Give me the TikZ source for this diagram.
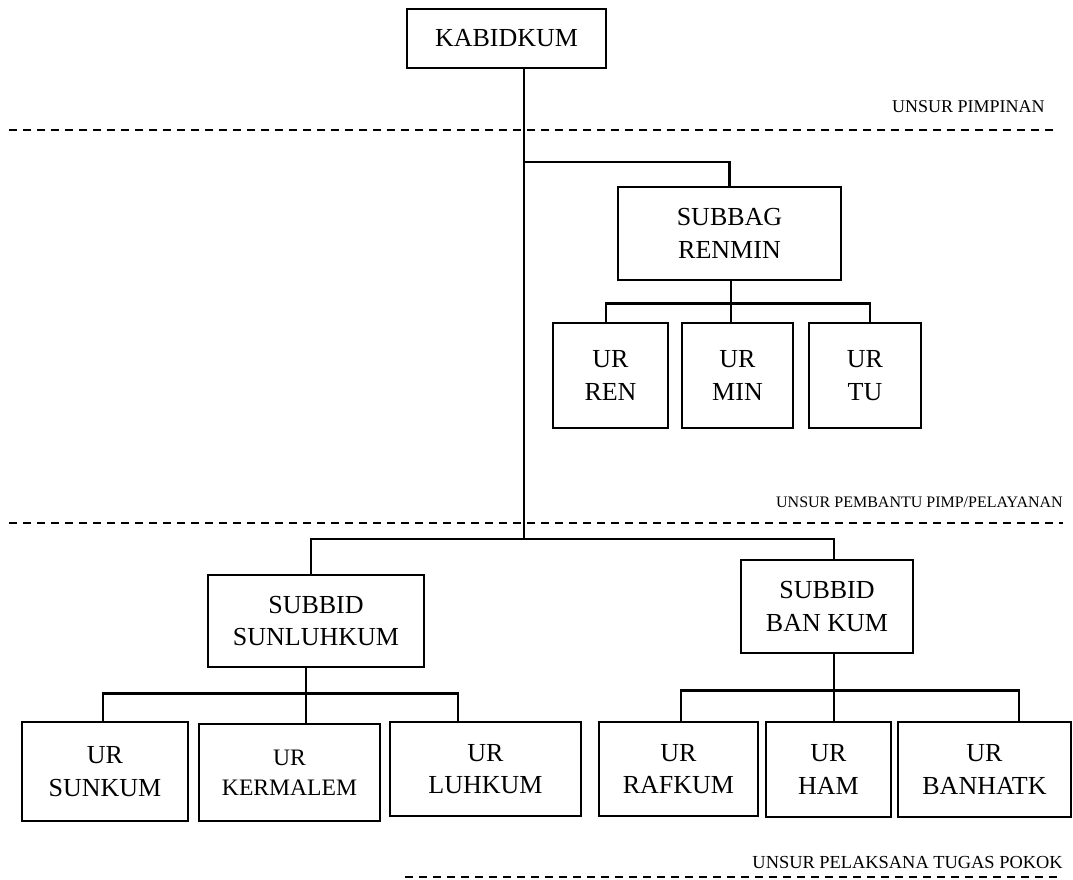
\documentclass[tikz,border=0pt]{standalone}
\usepackage{fontspec}
\setmainfont{Liberation Serif}
\usetikzlibrary{calc}
\begin{document}
\begin{tikzpicture}[x=0.75pt,y=-0.75pt,
  box/.style={draw, line width=2.2pt, inner sep=0pt, align=center, font=\fontsize{19.5}{24.5}\selectfont},
  conn/.style={line width=2pt},
  sep/.style={line width=1.6pt, dash pattern=on 6pt off 4.5pt},
  lbl/.style={inner sep=0pt, anchor=east}]
\useasboundingbox (0,0) rectangle (1073,879);

% boxes
\node[box, minimum width=149.25pt, minimum height=44.25pt] (kab) at (506.5,38.5) {KABIDKUM};
\node[box, minimum width=167.25pt, minimum height=69.75pt] (subbag) at (729.5,233.5) {SUBBAG\\RENMIN};
\node[box, minimum width=86.25pt, minimum height=78.75pt] (ren) at (610.5,375.5) {UR\\REN};
\node[box, minimum width=83.25pt, minimum height=78.75pt] (min) at (737.5,375.5) {UR\\MIN};
\node[box, minimum width=84pt, minimum height=78.75pt] (tu) at (865,375.5) {UR\\TU};
\node[box, minimum width=162pt, minimum height=69pt] (sunluh) at (316,621) {SUBBID\\SUNLUHKUM};
\node[box, minimum width=129pt, minimum height=69.75pt] (bankum) at (827,606.5) {SUBBID\\BAN KUM};
\node[box, minimum width=124.5pt, minimum height=74.25pt] (sunkum) at (105,771.5) {UR\\SUNKUM};
\node[box, minimum width=135.75pt, minimum height=72.75pt, font=\fontsize{17.7}{22.5}\selectfont] (kerm) at (289.5,772.5) {UR\\KERMALEM};
\node[box, minimum width=143.25pt, minimum height=70.5pt] (luhkum) at (485.5,769) {UR\\LUHKUM};
\node[box, minimum width=119.25pt, minimum height=70.5pt] (rafkum) at (678.5,769) {UR\\RAFKUM};
\node[box, minimum width=93.75pt, minimum height=71.25pt] (ham) at (828.5,769.5) {UR\\HAM};
\node[box, minimum width=129.75pt, minimum height=71.25pt] (banhatk) at (984.5,769.5) {UR\\BANHATK};

% separator lines
\draw[sep] (9,130) -- (1053,130);
\draw[sep] (9,523) -- (1063,523);
\draw[sep] (405,877) -- (1063,877);

% labels
\node[lbl, font=\fontsize{13.5}{16}\selectfont] (l1) at (1045,107) {UNSUR PIMPINAN};
\node[lbl, font=\fontsize{12}{14}\selectfont] (l2) at (1063,502) {UNSUR PEMBANTU PIMP/PELAYANAN};
\node[lbl, font=\fontsize{13.8}{16}\selectfont] (l3) at (1063,862) {UNSUR PELAKSANA TUGAS POKOK};

% connectors
\coordinate (tb) at (524,539);
\coordinate (tsub) at (524,162);
\draw[conn] (kab.south -| tb) -- (tb);
\draw[conn] (tsub) -| (subbag.north);

\coordinate (j1) at ($(subbag.south)+(1.5,22)$);
\draw[conn] ($(subbag.south)+(1.5,0)$) -- (j1);
\draw[conn] ($(ren.north)+(-4.5,0)$) |- (j1) -| ($(tu.north)+(5,0)$);
\draw[conn] (j1) -- ($(min.north)+(-6.5,0)$);

\draw[conn] ($(sunluh.north)+(-5,0)$) |- (tb) -| ($(bankum.north)+(7,0)$);

\coordinate (j2) at ($(sunluh.south)+(-10,25)$);
\draw[conn] ($(sunluh.south)+(-10,0)$) -- (j2);
\draw[conn] ($(sunkum.north)+(-2,0)$) |- (j2) -| ($(luhkum.north)+(-27.5,0)$);
\draw[conn] (j2) -- ($(kerm.north)+(16.5,0)$);

\coordinate (j3) at ($(bankum.south)+(7,36)$);
\draw[conn] ($(bankum.south)+(7,0)$) -- (j3);
\draw[conn] ($(rafkum.north)+(2.5,0)$) |- (j3) -| ($(banhatk.north)+(34.5,0)$);
\draw[conn] (j3) -- ($(ham.north)+(5.5,0)$);
\end{tikzpicture}
\end{document}
